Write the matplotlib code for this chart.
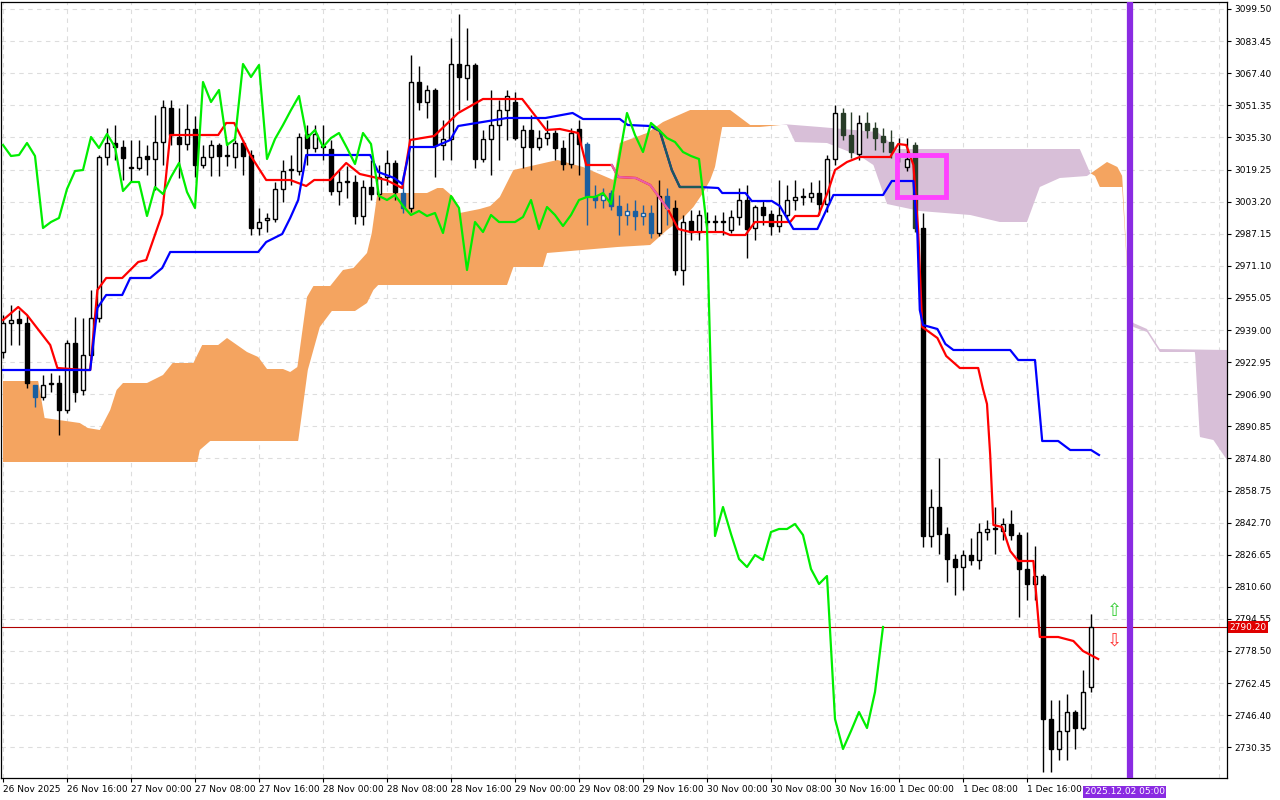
import numpy as np
import matplotlib
matplotlib.use("Agg")
import matplotlib.pyplot as plt
import matplotlib.transforms as mtrans

opens = [2928,2942.5,2944.5,2942.5,2911.5,2905.5,2912,2912.5,2899,2932.5,
 2909,2926.5,2945,3025.5,3032.5,3030.5,3020,3020,3026,3024.5,
 3033,3050,3035.5,3032,3039.5,3021.5,3025.5,3031.5,3026,3025.5,
 3032.5,3026.5,2990,2994,2994.5,3009.5,3019,3018.5,3037,3030,
 3030.5,3029.5,3008.5,3013,3013,2996,3010.5,3007,3015.5,3022.5,
 3007.5,3000,3063,3053,3059,3031.5,3034.5,3072,3065,3071.5,
 3024.5,3034.5,3041.5,3049,3053,3030.5,3039,3030.5,3035,3037.5,
 3030,3022,3039.5,3032,3006,3004,3007.5,3001,2996.5,2998.5,
 2996,2997.5,2987.5,3006,3000,2969,2993.5,2988,2993,2993,
 2993,2989,2995.5,3004,2990,3000.5,2997,2991,2996.5,3004,
 3005.5,3005.5,3007.5,3002,3024.5,3047.5,3036.5,3027,3042.5,3040,
 3036,3033,3026,3020.5,3031.5,2990,2836,2850.5,2837,2824.5,
 2820.5,2826.5,2824,2838,2839.5,2838.5,2842,2836.5,2819.5,2812,
 2816,2744.5,2729.5,2738.5,2748,2740,2760.5]
closes = [2942.5,2944,2942.5,2912.5,2905.5,2911.5,2912.5,2899,2932.5,2908,
 2926.5,2945,3025.5,3032.5,3030.5,3025,3020.5,3025.5,3024.5,3033,
 3050.5,3036.5,3032,3039.5,3021.5,3025.5,3031.5,3026,3026.5,3032.5,
 3026,2990,2993,2995,3009.5,3018.5,3019,3035.5,3030,3037,
 3030.5,3008.5,3013,3013,2996,3010.5,3007,3015.5,3022.5,3008,
 3000,3063,3053,3059,3031.5,3034.5,3072,3065.5,3071.5,3024.5,
 3034.5,3041.5,3049,3056,3035,3039,3030.5,3035,3037.5,3030,
 3022,3037.5,3032,3006,3004,3006.5,3001,2996.5,2998.5,2996,
 2997.5,2987.5,3006,3000,2969,2993,2988,2996.5,2993,2993,
 2993,2995.5,3004,2989.5,3000.5,2996.5,2991,2996.5,3004,3005.5,
 3005.5,3007.5,3002,3024.5,3047.5,3036.5,3028,3042.5,3039,3035,
 3033,3028,3026,3024.5,2990,2836,2850.5,2837,2824.5,2820.5,
 2826.5,2824,2838,2839.5,2839.5,2842,2836.5,2819.5,2812,2816,
 2744.5,2729.5,2738.5,2748,2740,2758,2790.5]
highs = [2946.5,2951.5,2949,2946.5,2911.5,2916.5,2917.5,2916.5,2934,2945.5,
 2945,2959,3026.5,3040,3041.5,3034,3034,3034,3031.5,3046.5,
 3054,3054,3050,3052,3046,3031.5,3034,3032.5,3033,3034,
 3034,3029,3000,2997.5,3013,3024,3026.5,3037.5,3041.5,3041.5,
 3041.5,3034,3019,3021,3016.5,3014,3024,3021.5,3029,3024,
 3016.5,3076.5,3071,3061.5,3060,3044,3085,3097,3090,3072.5,
 3039,3059,3054,3059,3058,3041.5,3046.5,3039,3044,3039,
 3034,3040,3044,3033,3011.5,3010,3009,3006.5,3002.5,3004,
 3001.5,3001.5,3014,3010,3004,2996.5,2999,2999,2998,2996.5,
 2998,2999,3010,3011.5,3001.5,3004,2999,3014,3011.5,3014,
 3010,3013,3014,3026.5,3051.5,3050,3048,3046.5,3048,3043,
 3040,3039,3035,3035,3033,2997.5,2859.5,2875,2840.5,2827,
 2829,2835,2842.5,2844,2850.5,2845,2849,2838,2838,2831,
 2817,2754,2754,2757,2749,2769,2797]
lows = [2925,2931.5,2931.5,2910,2900.5,2904,2908,2886.5,2897.5,2903,
 2906.5,2924,2943,3021.5,3024,3014,3013,3019,3016.5,3009,
 3021.5,3031.5,3015,3029,3015.5,3020,3016,3016,3021,3020,
 3016.5,2986.5,2986.5,2988,2993,3003,3011.5,3016.5,3021.5,3028,
 3024,3006.5,3001.5,3005,2992,2991.5,3004,3004,3011.5,3004,
 2997.5,2998,3049,3045,3015.5,3024,3024,3049,3054,3020,
 3023,3016.5,3024,3034,3034,3020,3019,3029,3031.5,3024,
 3019,3020,3016.5,2991.5,3000,3000,2999,2986.5,2991.5,2989,
 2991.5,2985,2986,2991.5,2966.5,2961.5,2984,2984,2989,2988,
 2986.5,2987.5,2991.5,2975,2984,2991.5,2986.5,2988,2994,2999,
 3001.5,3003,2996.5,2998,3021.5,3034,3025,3024,3035,3029,
 3028,3025,3023,3018.5,2988,2830.5,2830.5,2827,2813,2806.5,
 2809,2821.5,2819.5,2834,2827,2834,2834,2795.5,2804,2804,
 2718,2718,2724,2724,2729.5,2739,2758]
blue_candles = [4, 50, 73, 74, 75, 76, 77, 78, 79, 80, 81, 83]
dark_candles = [105, 106, 108, 109, 110, 111, 114]

tenkan_bar = [0,1.9,3,5.9,6.8,10.1,10.9,11.8,12.9,14.9,16.9,17.9,19.9,20.9,26.9,27.9,28.9,30.9,32.9,35.9,
 37.9,38.9,40.9,42.9,44.6,47.9,49.9,50.9,53.9,56.9,60,64.9,67.9,69.6,71.9,72.9,76.1,76.9,79.1,80.9,
 83.1,84.4,85.9,90,90.9,92.8,94,98.4,99,101.9,103.1,104,105.5,107.1,110.9,111.9,112.9,113.8,114.4,114.9,
 116.8,117.9,119.6,121.9,122.5,123,123.4,123.8,124.9,125.9,126.9,128.8,129.6,131.9,133.8,135,136.9]
tenkan_val = [2944,2950.5,2946.5,2931.5,2920,2919,2919,2959,2965,2965,2973,2974,2997,3036.5,3036.5,3042.5,3042.5,3026.5,3014,3014,
 3011,3014,3014,3022.5,3017,3014,3010,3034,3036,3047.5,3054.5,3054.5,3039,3039.5,3037.5,3021.5,3021.5,3015.5,3015,3011.5,
 2999.5,2989.5,2988,2988,2986.5,2986.5,2993,2993,2996,2996,3008,3019,3023,3025.5,3025.5,3032,3031.5,3021.5,2988.5,2940.5,
 2935,2926,2920,2920,2909.5,2902,2876.5,2841.5,2840.5,2828.5,2823.5,2823.5,2785.5,2785.5,2783.5,2778.5,2774.5]
kijun_bar = [0,10.9,11.8,12.9,14.9,15.9,18.4,19.9,20.9,31.9,32.9,34.9,35.9,36.9,37.9,45.9,46.9,48.9,49.9,50.9,
 53.9,55.9,56.9,63,67.8,71.2,72.5,77.1,78.1,80.9,82.1,83.6,84.6,87.1,89.4,89.9,92.8,93.6,96.1,97.1,
 98.8,101.8,103.8,110,111.1,113.8,114.3,114.6,115,116.8,117.8,118.8,125.9,126.9,129,129.9,131.9,133.4,136,137]
kijun_val = [2919,2919,2950,2956.5,2956.5,2965,2965,2970,2978,2978,2983,2987,2995,3004,3026.5,3026.5,3018,3015,3012,3030.5,
 3030.5,3034,3041,3045,3045,3047.5,3044.5,3044.5,3041.5,3041,3038.5,3019,3010.5,3010.5,3010,3007.5,3007.5,3003.5,3003.5,3001,
 2989.5,2989.5,3006.5,3006.5,3013.5,3013.5,2986.5,2949,2941.5,2939.5,2932,2929,2929,2924,2924,2883.5,2883.5,2879,2879,2876.5]

spanA_bar = [0,4.4,5.2,9.6,10.6,12.1,13.4,14.2,15,18,20,21.2,23.8,24.9,26.9,28,30.5,31.9,33,35,35.9,36.8,38,38.8,40.9,
 42.5,43.8,45.5,46.1,46.8,53,54.3,55,56.3,57.1,59.6,60.9,62.1,63.8,69.3,72.5,76.3,77.1,80.5,82.5,85.9,90.9,93.4,94.6,98,
 99,103,107.1,108.8,110.5,114.6,120.9,124.6,128,129.6,132.1,135.5,138,139.3,139.9,140.5,140.9,141.3,143,144.6,149,149.6,151.3,153]
spanA_val = [2913.5,2913.5,2895,2892.5,2890,2889,2899,2909,2912.5,2912.5,2916.5,2922.5,2922.5,2931.5,2931.5,2935,2928,2925.5,2919.5,2919.5,2918,2920.5,2955.5,2961,2961,
 2969,2970,2977.5,2987.5,3007.5,3007.5,3010,3010,3005.5,2997.5,2999.5,3001,3005.5,3019,3024,3020.5,3014,3032.5,3037.5,3043,3049,3049,3041.5,3041.5,3041.5,
 3033,3032.5,3026,3021.5,3002,2998.5,2996.5,2993,2993,3010.5,3015,3016,3023,3020.5,3016,2972,2944,2940.5,2938,2928,2928,2885.5,2884,2874]
spanB_bar = [0,24.3,24.6,25.9,36.9,38.1,39.6,41.1,44,45.5,46.3,46.9,63,63.8,67.5,68,76.8,80.9,83,85,86.3,87.5,88.4,89,89.6,89.9,
 94.6,98,102.1,109.3,111.8,134.6,135.9,136.5,137.1,139.9,140.5,140.9,141.3,143,144.6,153]
spanB_val = [2873,2873,2879,2883.5,2883.5,2919,2940.5,2948.5,2948.5,2952.5,2959,2961.5,2961.5,2970.5,2970.5,2977.5,2980.5,2981.5,2989,2995,3000.5,3007.5,3014,3020.5,3034,3040.5,
 3040.5,3041.8,3040.5,3038,3029.5,3029.5,3017.5,3016,3010.5,3010.5,2970,2946,2942.5,2939.5,2929.5,2929]

yticks = [3099.50,3083.45,3067.40,3051.35,3035.30,3019.25,3003.20,2987.15,2971.10,2955.05,2939.00,2922.95,
          2906.90,2890.85,2874.80,2858.75,2842.70,2826.65,2810.60,2794.55,2778.50,2762.45,2746.40,2730.35]
xlabels = ["26 Nov 2025","26 Nov 16:00","27 Nov 00:00","27 Nov 08:00","27 Nov 16:00","28 Nov 00:00",
           "28 Nov 08:00","28 Nov 16:00","29 Nov 00:00","29 Nov 08:00","29 Nov 16:00","30 Nov 00:00",
           "30 Nov 08:00","30 Nov 16:00","1 Dec 00:00","1 Dec 08:00","1 Dec 16:00"]
bars_per_label = 8
shift = 26
last_price = 2790.5
last_label = "2790.20"
time_label = "2025.12.02 05:00"
vline_bar = 140.9
box_bars = (111.75, 117.9)
box_prices = (3005.5, 3026.5)

fig = plt.figure(figsize=(12.8, 8.0), dpi=100)
ax = fig.add_axes([1/1280, 22/800, 1226/1280, 776/800])
ax.set_xlim(-0.25, 153)
ax.set_ylim(2715, 3103)

# grid
for t in yticks:
    ax.axhline(t, color="#dddddd", lw=0.8, ls=(0, (4, 4)), zorder=0)
for k in range(0, 154, bars_per_label):
    ax.axvline(k, color="#dddddd", lw=0.8, ls=(0, (4, 4)), zorder=0)

# cloud
g = np.linspace(0, 153, 3000)
A = np.interp(g, spanA_bar, spanA_val)
B = np.interp(g, spanB_bar, spanB_val)
ax.fill_between(g, A, B, where=A >= B, color="#f4a460", lw=0, zorder=1, interpolate=True)
ax.fill_between(g, A, B, where=A < B, color="#d8bfd8", lw=0, zorder=1, interpolate=True)

# candles
n = len(closes)
idx = np.arange(n)
for i in range(n):
    o, c, h, l = opens[i], closes[i], highs[i], lows[i]
    if i in blue_candles:
        ec = "#1a5fa0"
    elif i in dark_candles:
        ec = "#283c28"
    else:
        ec = "black"
    bull = c >= o
    fc = "white" if bull else ec
    ax.vlines(i, l, h, color=ec, lw=1, zorder=3)
    ax.bar(i, max(abs(c - o), 0.4), bottom=min(o, c), width=0.62, color=fc,
           edgecolor=ec, lw=1, zorder=4)

# lines
ax.plot(tenkan_bar, tenkan_val, color="#ff0000", lw=1.6, zorder=5)
gt = np.linspace(76.1, 83.1, 100)
ax.plot(gt, np.interp(gt, tenkan_bar, tenkan_val), color="#e860a8", lw=1.6, zorder=5)
ax.plot(kijun_bar, kijun_val, color="#0000ff", lw=1.6, zorder=5)
gk = np.linspace(81.5, 87.1, 100)
ax.plot(gk, np.interp(gk, kijun_bar, kijun_val), color="#1e5a5a", lw=1.6, zorder=5)
chikou = closes[shift:]
ax.plot(np.arange(len(chikou)), chikou, color="#00ee00", lw=1.6, zorder=6)

# current price line
ax.axhline(last_price, color="#b00000", lw=0.8, zorder=2)
ax.axvline(vline_bar, color="#8a2be2", lw=4.5, zorder=7)
ax.add_patch(plt.Rectangle((box_bars[0], box_prices[0]), box_bars[1] - box_bars[0],
                           box_prices[1] - box_prices[0], fill=False, ec="#ff40ff", lw=3.5, zorder=8))
ax.text(138.9, last_price + 8, "\u21e7", color="#33cc33", fontsize=13, ha="center", va="center", zorder=8)
ax.text(138.9, last_price - 7, "\u21e9", color="#ff3333", fontsize=13, ha="center", va="center", zorder=8)

# axes styling
ax.yaxis.tick_right()
ax.set_yticks(yticks)
ax.set_yticklabels([f"{v:.2f}" for v in yticks], fontsize=6.5)
ax.set_xticks(range(0, bars_per_label * len(xlabels), bars_per_label))
ax.set_xticklabels(xlabels, fontsize=6.5, ha="left")
ax.tick_params(axis="both", length=3, width=0.8, pad=2)
for s in ax.spines.values():
    s.set_linewidth(0.9)

tr = mtrans.blended_transform_factory(ax.transAxes, ax.transData)
ax.text(1.002, last_price, last_label, transform=tr, fontsize=6.5, color="white",
        va="center", ha="left", zorder=9,
        bbox=dict(boxstyle="square,pad=0.15", fc="#e00000", ec="none"))
tr2 = mtrans.blended_transform_factory(ax.transData, ax.transAxes)
ax.text(vline_bar - 0.7, -0.012, time_label, transform=tr2, fontsize=6.5, color="white",
        va="top", ha="center", zorder=9,
        bbox=dict(boxstyle="square,pad=0.2", fc="#8a2be2", ec="none"))

fig.savefig("out.png", dpi=100)
